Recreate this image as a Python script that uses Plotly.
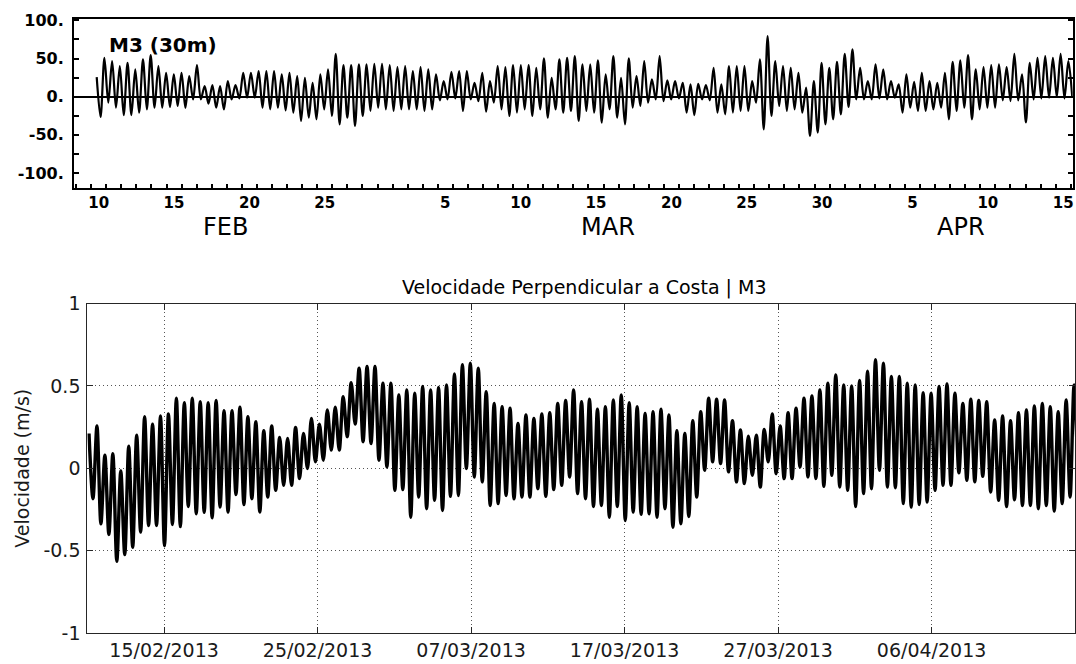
import numpy as np
import pandas as pd
import plotly.graph_objects as go

# ---------------- Top panel: historic record M3 (30m), cm/s ----------------
top_peaks = [25.7, 51.0, 46.6, 40.1, 44.4, 35.7, 48.8, 54.5, 40.1, 31.4, 29.2, 31.4, 27.0, 41.4,
             13.9, 15.3, 13.9, 20.5, 15.3, 31.4, 31.4, 33.6, 33.6, 33.6, 29.2, 31.4, 27.0, 24.8,
             18.3, 29.2, 35.7, 56.2, 41.4, 41.4, 42.3, 42.3, 43.1, 43.1, 41.4, 38.8, 40.1,
             33.6, 38.8, 35.7, 29.2, 20.5, 32.7, 33.6, 33.6, 18.3, 31.4, 20.5, 40.1, 38.8, 41.4,
             41.4, 41.4, 37.9, 50.1, 24.8, 48.8, 51.0, 53.2, 42.3, 42.3, 47.5, 29.2, 53.2, 24.8,
             50.1, 27.0, 46.6, 22.7, 53.2, 21.4, 20.5, 18.3, 16.1, 17.0, 15.3, 37.9, 16.1, 40.1, 40.1,
             40.1, 20.5, 48.8, 79.3, 46.6, 40.1, 37.9, 31.4, 11.8, 20.5, 44.4, 37.9, 45.8, 56.2,
             61.9, 37.9, 20.5, 42.3, 35.7, 20.5, 16.1, 29.2, 19.6, 31.4, 20.5, 18.3, 31.4, 45.8,
             47.5, 54.5, 35.7, 38.8, 41.4, 42.3, 38.8, 56.2, 29.2, 44.4, 51.0, 53.2, 51.0, 56.2, 46.6]
top_troughs = [-26.6, -7.8, -14.4, -24.0, -24.0, -20.9, -16.6, -14.4, -14.4, -13.5, -12.2, -14.4,
               -3.5, -3.5, -9.2, -14.4, -16.6, -3.5, -2.2, -1.3, -1.3, -14.4, -16.6, -14.4, -17.9,
               -20.9, -31.8, -27.5, -29.6, -16.6, -25.3, -36.2, -27.5, -38.3, -25.3, -18.7, -14.4,
               -16.6, -18.7, -16.6, -16.6,
               -16.6, -18.7, -16.6, -4.8, -3.5, -2.2, -18.7, -3.5, -5.7, -19.6, -7.8, -16.6, -25.3,
               -20.9, -16.6, -25.3, -16.6, -27.5, -16.6, -20.9, -18.7, -31.8, -18.7, -20.9, -34.0,
               -16.6, -27.5, -36.2, -14.4, -12.2, -7.8, -3.5, -5.7, -3.5, -2.2, -20.9, -24.0, -3.5,
               -4.8, -20.9, -23.1, -20.9, -18.7,
               -18.7, -7.8, -42.7, -25.3, -12.2, -18.7, -16.6, -20.9, -51.4, -47.1, -36.2, -29.6,
               -23.1, -13.5, -3.5, -3.5, -3.5, -2.2, -3.5, -1.3, -20.9, -14.4, -18.7, -18.7, -16.6,
               -14.4, -29.6, -18.7, -14.4, -29.6, -16.6, -14.4, -14.4, -4.8, -5.7, -4.8, -33.8,
               -3.5, -2.2, -1.3, -0.4, -2.2, 0.9]
top_peak_first, top_peak_last = "2013-02-10 08:49", "2013-04-15 20:10"
top_x_range = ["2013-02-08 20:40", "2013-04-16 03:07"]
top_y_range = [-119.6, 101.8]

top_tick_dates = ["2013-02-10 12:00", "2013-02-15 12:00", "2013-02-20 12:00", "2013-02-25 12:00",
                  "2013-03-05 12:00", "2013-03-10 12:00", "2013-03-15 12:00", "2013-03-20 12:00",
                  "2013-03-25 12:00", "2013-03-30 12:00", "2013-04-05 12:00", "2013-04-10 12:00",
                  "2013-04-15 12:00"]
top_tick_text = ["10", "15", "20", "25", "5", "10", "15", "20", "25", "30", "5", "10", "15"]
top_month_bounds = ["2013-03-01", "2013-04-01"]
month_labels = ["FEB", "MAR", "APR"]
top_y_ticks = [-100, -50, 0, 50, 100]
top_y_text = ["-100.", "-50.", "0.", "50.", "100."]

# ---------------- Bottom panel: Velocidade Perpendicular a Costa | M3 (m/s) ----------------
bot_peaks = [0.211, 0.256, 0.079, 0.089, -0.016, 0.134, 0.201, 0.313, 0.268, 0.317, 0.329, 0.425,
             0.398, 0.425, 0.404, 0.398, 0.411, 0.35, 0.35, 0.37, 0.313, 0.283, 0.228, 0.256, 0.187,
             0.181, 0.248, 0.211, 0.303, 0.268, 0.354, 0.37, 0.435, 0.52, 0.608, 0.618, 0.618,
             0.516, 0.516, 0.445, 0.476, 0.455,
             0.496, 0.476, 0.490, 0.506, 0.573, 0.628, 0.638, 0.608, 0.465, 0.394, 0.374, 0.364,
             0.272, 0.323, 0.303, 0.329, 0.337, 0.394, 0.411, 0.476, 0.404, 0.419, 0.358, 0.374,
             0.415, 0.445, 0.398, 0.374, 0.333, 0.343, 0.358, 0.323, 0.228, 0.211, 0.289, 0.343,
             0.425, 0.419, 0.415, 0.289, 0.232, 0.195,
             0.201, 0.236, 0.329, 0.256, 0.337, 0.364, 0.425, 0.439, 0.476, 0.516, 0.567, 0.506,
             0.5, 0.533, 0.589, 0.659, 0.638, 0.557, 0.557, 0.516, 0.506, 0.459, 0.455, 0.496,
             0.512, 0.455, 0.394, 0.419, 0.411, 0.404, 0.293, 0.317, 0.289, 0.337, 0.354, 0.378,
             0.394, 0.374, 0.343, 0.415, 0.506]
bot_troughs = [-0.185, -0.337, -0.402, -0.565, -0.524, -0.480, -0.388, -0.348, -0.348, -0.470,
               -0.341, -0.354, -0.232, -0.276, -0.268, -0.301, -0.236, -0.266, -0.159, -0.220,
               -0.185, -0.266, -0.175, -0.134, -0.104, -0.104, -0.063, -0.002, 0.039, 0.049,
               0.110, 0.110, 0.191, 0.268, 0.161, 0.150, 0.049, 0.008, -0.134, -0.130, -0.297,
               -0.175, -0.246, -0.195, -0.256, -0.171, -0.165, -0.002, -0.053, -0.083, -0.226,
               -0.215, -0.165, -0.185, -0.175, -0.175, -0.124, -0.171, -0.130, -0.104, -0.053,
               -0.154, -0.185, -0.232, -0.226, -0.297, -0.232, -0.317, -0.266, -0.280, -0.276,
               -0.297, -0.246, -0.358, -0.337, -0.293, -0.175, -0.012, 0.039, 0.028, -0.022,
               -0.083, -0.093,
               -0.043, -0.114, 0.039, -0.033, -0.063, -0.063, 0.008, -0.053, -0.063, -0.110,
               -0.043, -0.114, -0.134, -0.232, -0.154, -0.124, -0.012, -0.114, -0.118, -0.215,
               -0.236, -0.220, -0.205, -0.134, -0.104, -0.104, -0.028, -0.073, -0.083, -0.049,
               -0.144, -0.195, -0.232, -0.191, -0.226, -0.226, -0.246, -0.226, -0.260, -0.215,
               -0.175, -0.083]
bot_first_peak = "2013-02-10 02:40"
tidal_period_hours = 12.42
bot_x_range = ["2013-02-10 00:00", "2013-04-15 08:10"]
bot_y_ticks = [-1, -0.5, 0, 0.5, 1]
bot_y_text = ["-1", "-0.5", "0", "0.5", "1"]


def alternate(t_peaks, v_peaks, t_troughs, v_troughs):
    """Interleave peak / trough samples strictly: peak, trough, peak, trough ..."""
    n = min(len(v_peaks), len(v_troughs))
    t = np.empty(2 * n, dtype="datetime64[ns]")
    v = np.empty(2 * n)
    t[0::2] = np.asarray(t_peaks[:n], dtype="datetime64[ns]")
    t[1::2] = np.asarray(t_troughs[:n], dtype="datetime64[ns]")
    v[0::2] = v_peaks[:n]
    v[1::2] = v_troughs[:n]
    return pd.to_datetime(t), v


tp_top = pd.date_range(top_peak_first, top_peak_last, periods=len(top_peaks))
half_top = (tp_top[1] - tp_top[0]) / 2
x_top, y_top = alternate(tp_top, top_peaks, tp_top + half_top, top_troughs)

step = pd.Timedelta(hours=tidal_period_hours)
tp_bot = pd.Timestamp(bot_first_peak) + step * np.arange(len(bot_peaks))
x_bot, y_bot = alternate(tp_bot, bot_peaks, tp_bot + step / 2, bot_troughs)

W, H = 1076, 664
fig = go.Figure()
fig.add_trace(go.Scatter(x=x_top, y=y_top, mode="lines", xaxis="x", yaxis="y",
                         line=dict(color="black", width=2.2, shape="spline", smoothing=0.9),
                         hoverinfo="skip", showlegend=False))
fig.add_trace(go.Scatter(x=x_bot, y=y_bot, mode="lines", xaxis="x2", yaxis="y2",
                         line=dict(color="black", width=3.4, shape="spline", smoothing=0.9),
                         showlegend=False))

boldf = dict(family="DejaVu Sans", size=15, color="black", weight="bold")
regf = dict(family="DejaVu Sans", size=19, color="#1a1a1a")

top_dom_x = [74 / W, 1072.7 / W]
top_dom_y = [1 - 188 / H, 1 - 19 / H]
bot_dom_x = [87.3 / W, 1075 / W]
bot_dom_y = [1 - 633 / H, 1 - 303.5 / H]

grid_dash = "1px,3px"

fig.update_layout(
    width=W, height=H, margin=dict(l=0, r=0, t=0, b=0),
    paper_bgcolor="white", plot_bgcolor="white", showlegend=False,
    xaxis=dict(domain=top_dom_x, anchor="y", type="date", range=top_x_range,
               tickmode="array", tickvals=top_tick_dates, ticktext=top_tick_text,
               ticks="", showgrid=False, zeroline=False, tickfont=boldf,
               showline=True, linecolor="black", linewidth=2, mirror=True,
               minor=dict(tickmode="linear", tick0="2013-02-01", dtick=86400000,
                          ticks="inside", ticklen=4, tickwidth=1.5, tickcolor="black",
                          showgrid=False),
               automargin=False),
    xaxis3=dict(overlaying="x", anchor="y", type="date", range=top_x_range,
                tickmode="array", tickvals=top_month_bounds, ticks="inside", ticklen=10,
                tickwidth=2, tickcolor="black", showticklabels=False, showgrid=False,
                zeroline=False, showline=False, mirror="ticks", automargin=False),
    yaxis=dict(domain=top_dom_y, anchor="x", range=top_y_range,
               tickmode="array", tickvals=top_y_ticks, ticktext=top_y_text,
               ticks="inside", ticklen=5, tickwidth=1.5, tickcolor="black",
               tickfont=dict(boldf, size=16), showgrid=False, ticklabelstandoff=5,
               zeroline=True, zerolinecolor="black", zerolinewidth=1.6,
               showline=True, linecolor="black", linewidth=2, mirror="ticks",
               minor=dict(tickmode="linear", tick0=0, dtick=25, ticks="inside", ticklen=5,
                          tickwidth=1.5, tickcolor="black", showgrid=False),
               automargin=False),
    xaxis2=dict(domain=bot_dom_x, anchor="y2", type="date", range=bot_x_range,
                tick0="2013-02-15", dtick=10 * 86400000, tickformat="%d/%m/%Y",
                ticks="inside", ticklen=6, tickcolor="#262626", tickfont=regf,
                showgrid=True, gridcolor="#555555", griddash=grid_dash, gridwidth=1,
                zeroline=False, showline=True, linecolor="#262626", linewidth=1,
                mirror="ticks", automargin=False),
    yaxis2=dict(domain=bot_dom_y, anchor="x2", range=[-1, 1],
                tickmode="array", tickvals=bot_y_ticks, ticktext=bot_y_text,
                ticks="inside", ticklen=6, tickcolor="#262626", tickfont=regf,
                showgrid=True, gridcolor="#555555", griddash=grid_dash, gridwidth=1,
                zeroline=False, showline=True, linecolor="#262626", linewidth=1,
                mirror="ticks", automargin=False, ticklabelstandoff=2,
                title=dict(text="Velocidade (m/s)", font=regf, standoff=8)),
)

fig.add_annotation(text="M3 (30m)", xref="paper", yref="paper", x=163 / W, y=1 - 44.7 / H,
                   xanchor="center", yanchor="middle", showarrow=False,
                   font=dict(family="DejaVu Sans", size=20, color="black", weight="bold"))
for lbl, px in zip(month_labels, [225, 608, 961]):
    fig.add_annotation(text=lbl, xref="paper", yref="paper", x=px / W, y=1 - 227 / H,
                       xanchor="center", yanchor="middle", showarrow=False,
                       font=dict(family="DejaVu Sans", size=24, color="black"))
fig.add_annotation(text="Velocidade Perpendicular a Costa | M3", xref="paper", yref="paper",
                   x=584 / W, y=1 - 287 / H, xanchor="center", yanchor="middle",
                   showarrow=False, font=dict(family="DejaVu Sans", size=19, color="black"))

fig.write_html("out.html")
